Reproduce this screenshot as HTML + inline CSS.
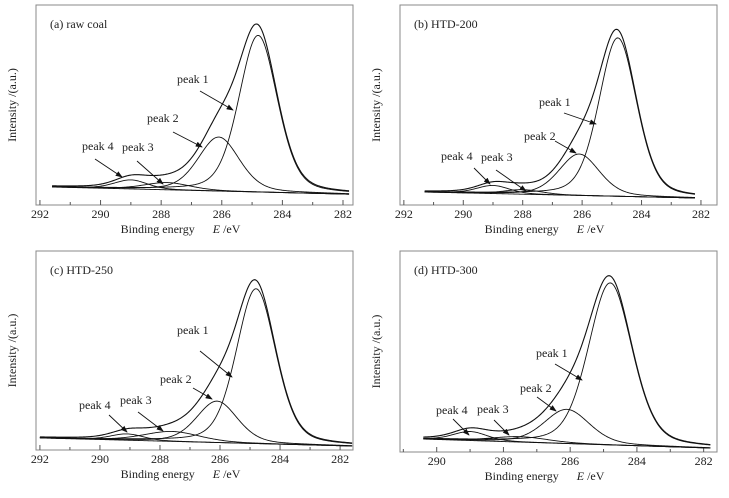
<!DOCTYPE html>
<html><head><meta charset="utf-8">
<style>
body{margin:0;background:#fff}
svg text{font-family:"Liberation Serif",serif;fill:#222}
</style></head>
<body>
<svg id="fig" width="729" height="493" viewBox="0 0 729 493" xmlns="http://www.w3.org/2000/svg">
<defs><marker id="ar" markerWidth="8" markerHeight="6" refX="7" refY="3" orient="auto"><path d="M0,0 L8,3 L0,6 z" fill="#111"/></marker></defs>
</svg>
<script>
// ---- data ----
const panelTitles = ["(a) raw coal","(b) HTD-200","(c) HTD-250","(d) HTD-300"];
const peakNames = ["peak 1","peak 2","peak 3","peak 4"];
const centersA = [284.8, 286.1, 287.8, 289.0];
const heightsA = [87, 30, 4, 5];
const fwhmA = [1.5, 1.6, 1.8, 1.3];
const centersB = [284.8, 286.1, 288.0, 289.0];
const heightsB = [88, 23, 2.5, 4.5];
const fwhmB = [1.5, 1.6, 1.5, 1.3];
const centersC = [284.8, 286.1, 287.6, 289.1];
const heightsC = [86, 23, 5.5, 3.5];
const fwhmC = [1.55, 1.6, 2.2, 1.3];
const centersD = [284.8, 286.1, 287.5, 289.0];
const heightsD = [90, 19, 3, 5];
const fwhmD = [1.55, 1.6, 2.0, 1.2];
const baselineStart = [10, 7.2, 6.7, 7.2];
const baselineEnd = [6, 3.9, 2.2, 2.2];
const dataStartE = [291.6, 291.3, 292.0, 290.4];
const dataEndE = [281.8, 282.2, 281.6, 281.8];
const tickLabelsA = [292,290,288,286,284,282];
const tickLabelsD = [290,288,286,284,282];

// ---- layout ----
const panels = [
 {x0:36,x1:353,y0:5,y1:205,eL:292.13,eR:281.67,centers:centersA,heights:heightsA,fwhm:fwhmA,ticks:tickLabelsA,
  labels:[[177,83,200,91,233,110],[147,122,173,132,202,147],[122,151,137,161,163,184],[82,150,95,159,122,177]]},
 {x0:400,x1:717,y0:5,y1:205,eL:292.13,eR:281.46,centers:centersB,heights:heightsB,fwhm:fwhmB,ticks:tickLabelsA,
  labels:[[539,106,564,113,596,124],[524,140,555,141,576,153],[481,161,496,170,526,191],[441,160,474,168,490,184]]},
 {x0:36,x1:353,y0:251,y1:450,eL:292.13,eR:281.57,centers:centersC,heights:heightsC,fwhm:fwhmC,ticks:tickLabelsA,
  labels:[[177,334,200,351,232,377],[160,383,193,388,212,399],[120,404,138,412,163,431],[79,409,109,415,127,432]]},
 {x0:400,x1:717,y0:251,y1:452,eL:291.1,eR:281.6,centers:centersD,heights:heightsD,fwhm:fwhmD,ticks:tickLabelsD,
  labels:[[536,357,555,364,582,380],[520,392,537,397,556,411],[477,413,494,420,509,435],[436,414,453,419,469,435]]}
];
const svg=document.getElementById('fig');
const NS="http://www.w3.org/2000/svg";
function mk(t,a,parent){const e=document.createElementNS(NS,t);for(const k in a)e.setAttribute(k,a[k]);(parent||svg).appendChild(e);return e;}
function pv(x,c,h,f){const d=(x-c)/f;return h*(0.3/(1+4*d*d)+0.7*Math.exp(-4*Math.LN2*d*d));}

panels.forEach((p,i)=>{
  const g=mk('g',{});
  
  
  const xs=e=>p.x0+(p.eL-e)/(p.eL-p.eR)*(p.x1-p.x0);
  const ys=v=>p.y1-v*1.8;
  const frame=mk('rect',{x:p.x0,y:p.y0,width:p.x1-p.x0,height:p.y1-p.y0,fill:'none',stroke:'#888','stroke-width':1},g);
  
  
  for(let e=Math.floor(p.eL);e>=Math.ceil(p.eR);e--){
    const major=p.ticks.includes(e);
    const t=mk('line',{x1:xs(e),x2:xs(e),y1:p.y1,y2:p.y1-(major?5:3),stroke:'#555','stroke-width':1},g);
    
    
  }
  p.ticks.forEach(e=>{
    const t=mk('text',{x:xs(e),y:p.y1+13,'font-size':12,'text-anchor':'middle'},g);t.textContent=e;
    
    
  });
  const xt=mk('text',{x:(p.x0+p.x1)/2-14,y:p.y1+28,'font-size':12,'text-anchor':'middle'},g);
  xt.innerHTML='Binding energy&#160;&#160;&#160;&#160;&#160;&#160;<tspan font-style="italic">E</tspan> /eV';
  
  
  const yc=(p.y0+p.y1)/2, yx=p.x0-20;
  const yt=mk('text',{x:yx,y:yc,'font-size':12,'text-anchor':'middle',transform:`rotate(-90 ${yx} ${yc})`},g);
  yt.textContent='Intensity /(a.u.)';
  
  
  const tt=mk('text',{x:p.x0+14,y:p.y0+23,'font-size':12},g);tt.textContent=panelTitles[i];
  
  
  const s=dataStartE[i], en=dataEndE[i], N=300;
  const base=e=>baselineStart[i]+(baselineEnd[i]-baselineStart[i])*(s-e)/(s-en);
  const path=f=>{let d='';for(let k=0;k<=N;k++){const e=s-(s-en)*k/N;d+=(k?'L':'M')+xs(e).toFixed(2)+','+ys(f(e)).toFixed(2);}return d;};
  const bl=mk('path',{d:path(base),fill:'none',stroke:'#111','stroke-width':0.9},g);
  
  
  p.centers.forEach((c,j)=>{
    const pc=mk('path',{d:path(e=>base(e)+pv(e,c,p.heights[j],p.fwhm[j])),fill:'none',stroke:'#111','stroke-width':0.9},g);
    
    
  });
  const env=mk('path',{d:path(e=>base(e)+p.centers.reduce((a,c,j)=>a+pv(e,c,p.heights[j],p.fwhm[j]),0)),fill:'none',stroke:'#111','stroke-width':1.1},g);
  
  
  p.labels.forEach((L,j)=>{
    const t=mk('text',{x:L[0],y:L[1],'font-size':12},g);t.textContent=peakNames[j];
    
    
    const a=mk('line',{x1:L[2],y1:L[3],x2:L[4],y2:L[5],stroke:'#111','stroke-width':0.9,'marker-end':'url(#ar)'},g);
    
    
  });
});
</script>
</body></html>
